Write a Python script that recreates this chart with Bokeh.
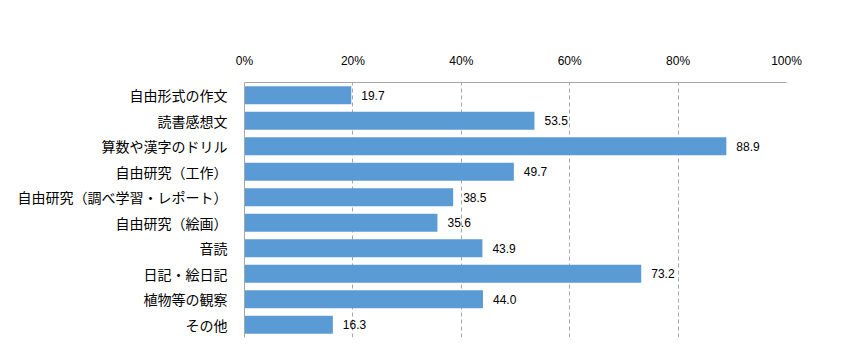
from bokeh.plotting import figure
from bokeh.models import ColumnDataSource, FactorRange, PrintfTickFormatter, FixedTicker
from bokeh.core.properties import value
from bokeh.embed import file_html
from bokeh.resources import INLINE

categories = ["自由形式の作文", "読書感想文", "算数や漢字のドリル", "自由研究（工作）",
              "自由研究（調べ学習・レポート）", "自由研究（絵画）", "音読", "日記・絵日記",
              "植物等の観察", "その他"]
values = [19.7, 53.5, 88.9, 49.7, 38.5, 35.6, 43.9, 73.2, 44.0, 16.3]
tick_values = [0, 20, 40, 60, 80, 100]

labels = [f"{v:.1f}" for v in values]
src = ColumnDataSource(dict(cat=categories, val=values, lab=labels))

W, H = 831, 344
p = figure(width=W, height=H, output_backend="svg", toolbar_location=None,
           y_range=FactorRange(*list(reversed(categories))), x_range=(0, 100),
           x_axis_location="above",
           min_border_left=244, min_border_right=45, min_border_top=82, min_border_bottom=7)
p.outline_line_color = None
p.background_fill_color = "white"

p.hbar(y="cat", right="val", left=0, height=0.7, source=src, color="#5B9BD5", line_color=None)
p.text(x="val", y="cat", text="lab", source=src, x_offset=10, text_baseline="middle",
       text_font=value("Liberation Sans"), text_font_size="12px", text_color="#000000")

xa = p.xaxis[0]
xa.ticker = FixedTicker(ticks=tick_values)
xa.formatter = PrintfTickFormatter(format="%d%%")
xa.axis_line_color = "#A6A6A6"
xa.major_tick_line_color = None
xa.minor_tick_line_color = None
xa.major_label_standoff = 9
xa.major_label_text_font = "Liberation Sans"
xa.major_label_text_font_size = "12px"
xa.major_label_text_color = "#000000"

ya = p.yaxis[0]
ya.axis_line_color = "#A6A6A6"
ya.major_tick_line_color = None
ya.minor_tick_line_color = None
ya.major_label_standoff = 11
ya.major_label_text_font = "Noto Sans CJK JP"
ya.major_label_text_font_size = "14px"
ya.major_label_text_color = "#000000"

p.xgrid.ticker = FixedTicker(ticks=[20, 40, 60, 80, 100])
p.xgrid.grid_line_color = "#A6A6A6"
p.xgrid.grid_line_dash = "4 3"
p.ygrid.grid_line_color = None

open("out.html", "w").write(file_html(p, INLINE))
